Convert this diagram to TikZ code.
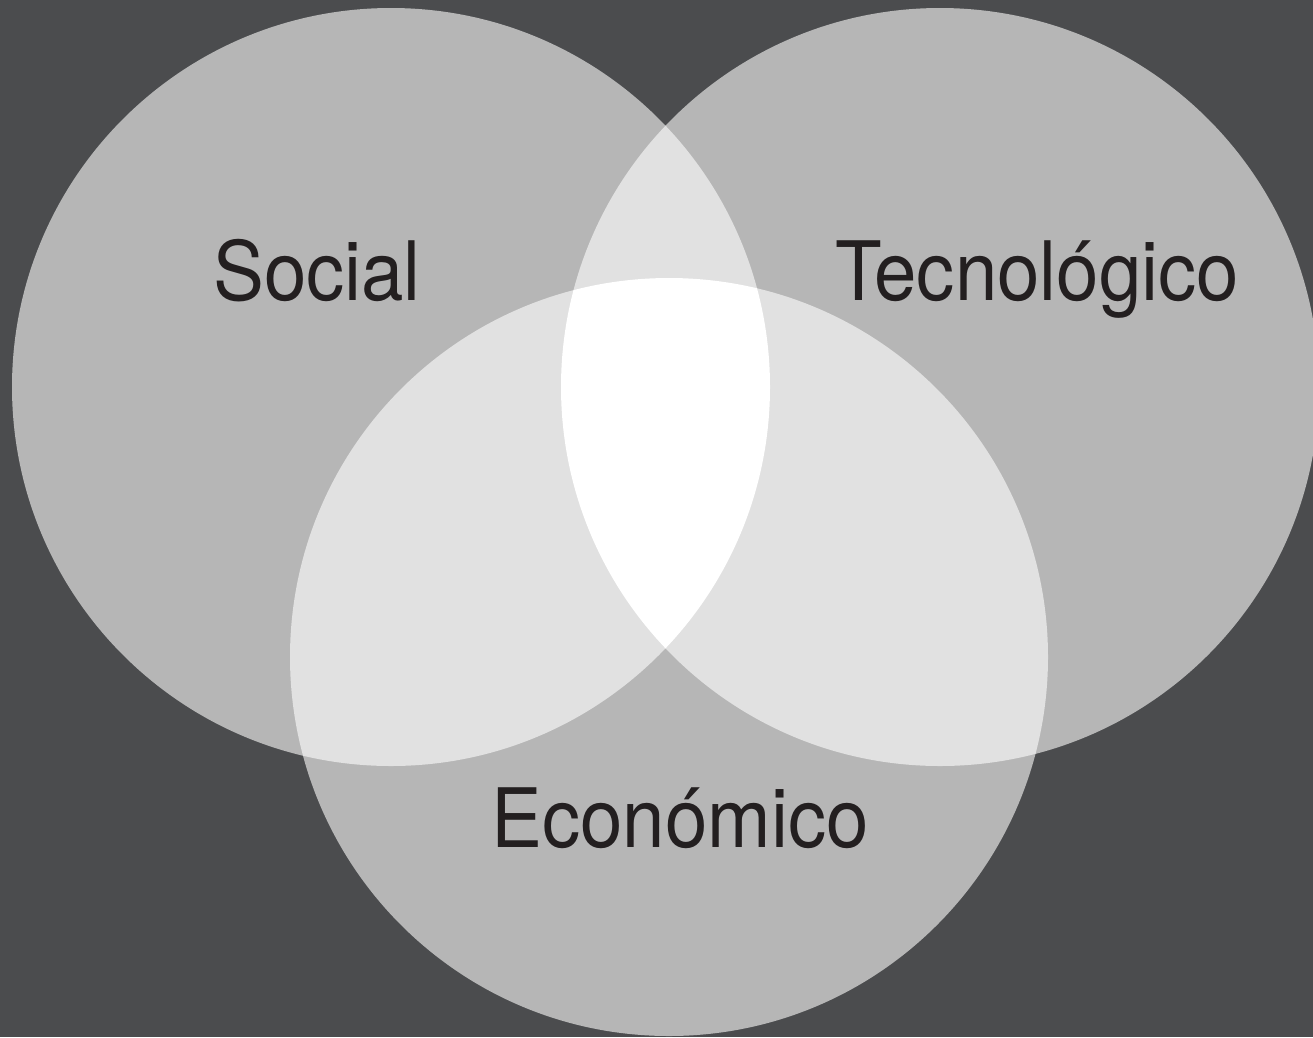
\documentclass[tikz,border=0pt]{standalone}
\usepackage{fontspec}
\setmainfont{TeX Gyre Heros}
\newfontfamily\labfont{TeX Gyre Heros}[FakeStretch=0.93]
\definecolor{bgc}{HTML}{4B4C4E}
\definecolor{onec}{HTML}{B6B6B6}
\definecolor{twoc}{HTML}{E1E1E1}
\definecolor{txtc}{HTML}{231F20}
\tikzset{
  lab/.style={text=txtc, font=\labfont\fontsize{82}{90}\selectfont, inner sep=0pt, anchor=base},
}
\def\R{379}
\begin{document}
\begin{tikzpicture}[x=1pt,y=-1pt]
\fill[bgc] (0,0) rectangle (1313,1037);
\useasboundingbox (0,0) rectangle (1313,1037);
\coordinate (cs) at (391,387);
\coordinate (ct) at (940,387);
\coordinate (ce) at (669,657);
% single circles
\fill[onec] (cs) circle[radius=\R];
\fill[onec] (ct) circle[radius=\R];
\fill[onec] (ce) circle[radius=\R];
% pairwise overlaps
\begin{scope}
  \clip (cs) circle[radius=\R];
  \fill[twoc] (ct) circle[radius=\R];
  \fill[twoc] (ce) circle[radius=\R];
\end{scope}
\begin{scope}
  \clip (ct) circle[radius=\R];
  \fill[twoc] (ce) circle[radius=\R];
\end{scope}
% triple overlap
\begin{scope}
  \clip (cs) circle[radius=\R];
  \clip (ct) circle[radius=\R];
  \fill[white] (ce) circle[radius=\R];
\end{scope}
\node[lab] (social) at (317,300) {Social};
\node[lab] (tecno) at (1037,300) {Tecnológico};
\node[lab] (econ) at (680,847) {Económico};
\end{tikzpicture}
\end{document}
